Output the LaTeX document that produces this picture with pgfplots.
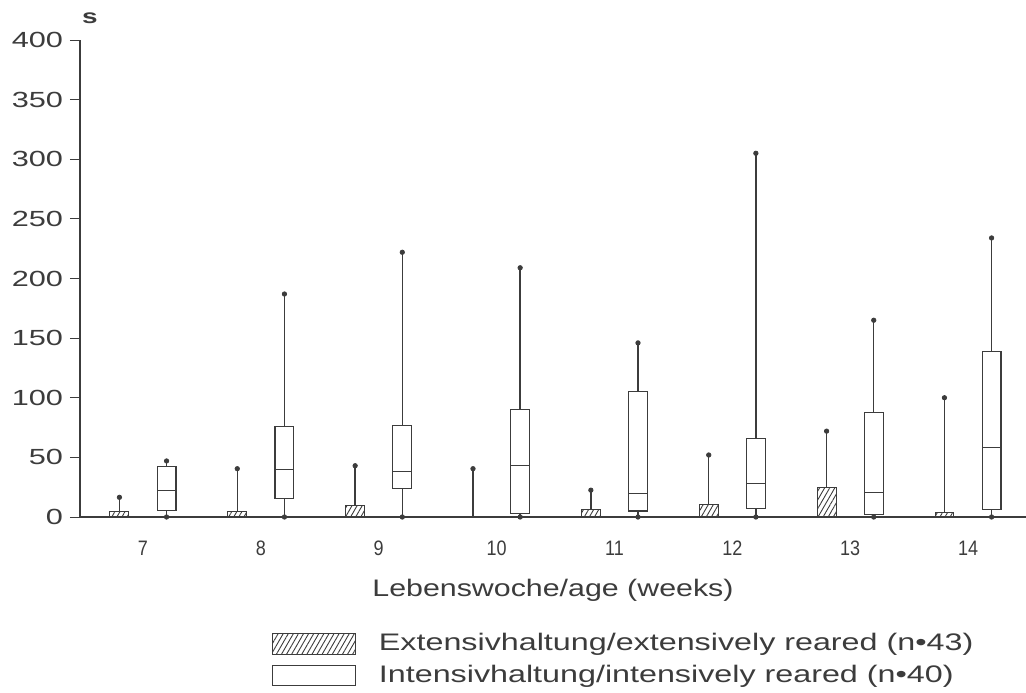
\documentclass[border=0pt]{standalone}
\usepackage{fontspec}
\setmainfont{Liberation Sans}[FakeStretch=1.4]
\newfontfamily\narrowfont{Liberation Sans}[FakeStretch=0.86]
\newfontfamily\labfont{Liberation Sans}[FakeStretch=1.27]
\newfontfamily\legfont{Liberation Sans}[FakeStretch=1.35]
\usepackage{pgfplots}
\pgfplotsset{compat=1.18}
\usepgfplotslibrary{statistics}
\usetikzlibrary{patterns.meta}
\definecolor{ink}{HTML}{3C3C3C}
\pgfplotsset{
  ext/.style={ink, line width=0.65bp, forget plot,
    boxplot/box extend=0.16, boxplot/whisker extend=0,
    boxplot/every box/.append style={line width=0.5bp, pattern={Lines[angle=60,distance=2.2bp,line width=0.45bp]}, pattern color=ink}},
  int/.style={ink, line width=0.65bp, forget plot,
    boxplot/box extend=0.16, boxplot/whisker extend=0,
    boxplot/every box/.append style={line width=0.55bp},
    boxplot/every median/.append style={line width=0.5bp}},
}
\begin{document}
\begin{tikzpicture}
\useasboundingbox (-40bp,-88bp) rectangle (473bp,258.5bp);
\begin{axis}[
  name=ax,
  scale only axis, width=473bp, height=238.5bp,
  xmin=6.4655, xmax=14.492, ymin=0, ymax=400,
  axis x line*=bottom, axis y line*=left,
  axis line style={ink, line width=0.6bp},
  ytick={0,50,...,400},
  xtick={7,...,14},
  xtick style={draw=none},
  ytick style={ink, line width=0.5bp},
  tick align=outside, major tick length=5bp,
  /pgf/number format/assume math mode=true,
  yticklabel style={font=\fontsize{11}{13}\selectfont, text=ink},
  xticklabel style={font=\narrowfont\fontsize{10.5}{12}\selectfont, text=ink, yshift=-3.5bp},
  xlabel={Lebenswoche/age (weeks)},
  xlabel style={font=\labfont\fontsize{12}{14}\selectfont, text=ink, at={(axis description cs:0.5,0)}, anchor=center, yshift=-36.5bp},
  clip=false,
  boxplot/draw direction=y,
  legend style={at={(axis description cs:0.2030,-0.235)}, anchor=north west, draw=none, fill=none,
    inner sep=0pt, font=\legfont\fontsize{12}{14}\selectfont, text=ink, row sep=1.8bp},
  legend cell align=left,
]
\addlegendimage{legend image code/.code={\path[draw=none,fill=none] (0bp,0bp) -- (51bp,0bp); \draw[ink, line width=0.5bp, pattern={Lines[angle=60,distance=2.2bp,line width=0.45bp]}, pattern color=ink] (0bp,-5.25bp) rectangle (41.5bp,5.25bp);}}
\addlegendentry{Extensivhaltung/extensively reared (n•43)}
\addlegendimage{legend image code/.code={\path[draw=none,fill=none] (0bp,0bp) -- (51bp,0bp); \draw[ink, line width=0.5bp] (0bp,-5bp) rectangle (41.5bp,5bp);}}
\addlegendentry{Intensivhaltung/intensively reared (n•40)}

% extensively reared (hatched)
\addplot[ext, boxplot prepared={draw position=6.8,  lower whisker=0, lower quartile=0, median=0, upper quartile=4.5,  upper whisker=16.5}] coordinates {};
\addplot[ext, boxplot prepared={draw position=7.8,  lower whisker=0, lower quartile=0, median=0, upper quartile=4.5,  upper whisker=40.5}] coordinates {};
\addplot[ext, boxplot prepared={draw position=8.8,  lower whisker=0, lower quartile=0, median=0, upper quartile=10,   upper whisker=43}] coordinates {};
\addplot[ext, boxplot prepared={draw position=9.8,  lower whisker=0, lower quartile=0, median=0, upper quartile=0,    upper whisker=40.5}] coordinates {};
\addplot[ext, boxplot prepared={draw position=10.8, lower whisker=0, lower quartile=0, median=0, upper quartile=6,    upper whisker=22.5}] coordinates {};
\addplot[ext, boxplot prepared={draw position=11.8, lower whisker=0, lower quartile=0, median=0, upper quartile=10.5, upper whisker=52}] coordinates {};
\addplot[ext, boxplot prepared={draw position=12.8, lower whisker=0, lower quartile=0, median=0, upper quartile=25,   upper whisker=72}] coordinates {};
\addplot[ext, boxplot prepared={draw position=13.8, lower whisker=0, lower quartile=0, median=0, upper quartile=3.5,  upper whisker=100}] coordinates {};

% intensively reared (open)
\addplot[int, boxplot prepared={draw position=7.2,  lower whisker=0, lower quartile=5.5, median=22.5, upper quartile=42,  upper whisker=47}] coordinates {};
\addplot[int, boxplot prepared={draw position=8.2,  lower whisker=0, lower quartile=15.5, median=40,  upper quartile=76,  upper whisker=187}] coordinates {};
\addplot[int, boxplot prepared={draw position=9.2,  lower whisker=0, lower quartile=24,  median=38.5, upper quartile=77,  upper whisker=222}] coordinates {};
\addplot[int, boxplot prepared={draw position=10.2, lower whisker=0, lower quartile=3,   median=43,   upper quartile=90,  upper whisker=209}] coordinates {};
\addplot[int, boxplot prepared={draw position=11.2, lower whisker=0, lower quartile=5,   median=19.5, upper quartile=105, upper whisker=146}] coordinates {};
\addplot[int, boxplot prepared={draw position=12.2, lower whisker=0, lower quartile=7,   median=28.5, upper quartile=66,  upper whisker=305}] coordinates {};
\addplot[int, boxplot prepared={draw position=13.2, lower whisker=0, lower quartile=2,   median=20.5, upper quartile=88,  upper whisker=165}] coordinates {};
\addplot[int, boxplot prepared={draw position=14.2, lower whisker=0, lower quartile=6.5, median=58,   upper quartile=139, upper whisker=234}] coordinates {};

% whisker end dots
\addplot[only marks, mark=*, mark size=1.1bp, ink, forget plot] coordinates {
 (6.8,16.5) (7.8,40.5) (8.8,43) (9.8,40.5) (10.8,22.5) (11.8,52) (12.8,72) (13.8,100)
 (7.2,47) (8.2,187) (9.2,222) (10.2,209) (11.2,146) (12.2,305) (13.2,165) (14.2,234)
 (7.2,0) (8.2,0) (9.2,0) (10.2,0) (11.2,0) (12.2,0) (13.2,0) (14.2,0)
};
\node[anchor=base west, font=\fontsize{10}{12}\selectfont\bfseries, text=ink] at ([xshift=-2.5bp,yshift=8bp]rel axis cs:0,1) {s};
\end{axis}
\end{tikzpicture}
\end{document}
